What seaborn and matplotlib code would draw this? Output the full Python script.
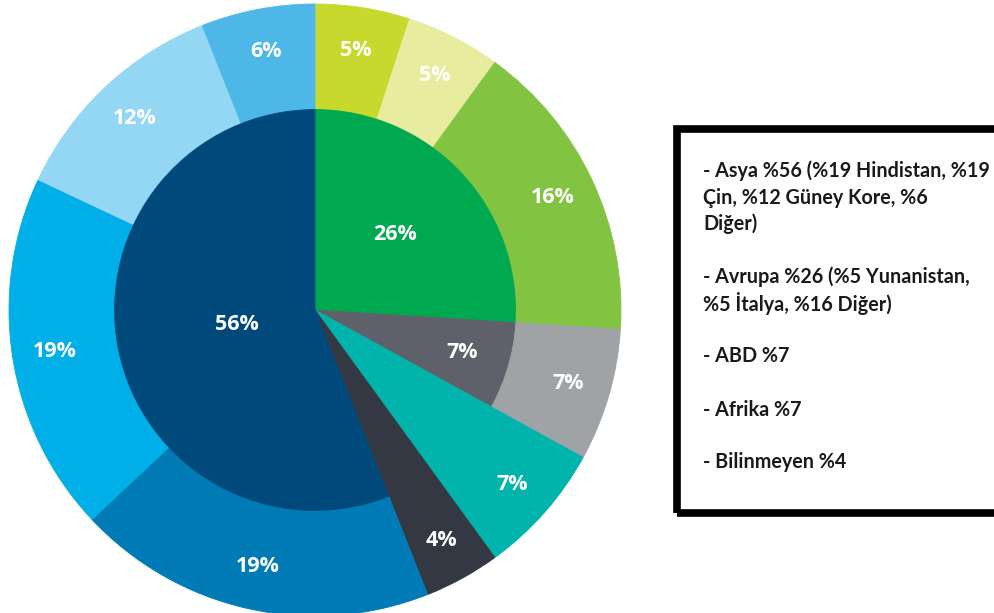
import numpy as np
import matplotlib.pyplot as plt
import seaborn as sns
from matplotlib.patches import Rectangle

# ==========================================
# DATA (clockwise from 12 o'clock)
# ==========================================
inner_names = ['Avrupa', 'ABD', 'Afrika', 'Bilinmeyen', 'Asya']
inner_values = [26, 7, 7, 4, 56]
inner_colors = ['#00a84f', '#5e6169', '#00b4ac', '#343843', '#004a7b']

outer_names = ['Yunanistan', 'İtalya', 'Avrupa Diğer', 'ABD', 'Afrika', 'Bilinmeyen',
               'Hindistan', 'Çin', 'Güney Kore', 'Asya Diğer']
outer_values = [5, 5, 16, 7, 7, 4, 19, 19, 12, 6]
outer_colors = ['#c8d92d', '#e8ec9e', '#82c341', '#a0a3a6', '#00b4ac', '#343843',
                '#007bb5', '#00aee8', '#94d7f5', '#4db7e7']

legend_lines = [
    '- Asya %56 (%19 Hindistan, %19',
    'Çin, %12 Güney Kore, %6',
    'Diğer)',
    '',
    '- Avrupa %26 (%5 Yunanistan,',
    '%5 İtalya, %16 Diğer)',
    '',
    '- ABD %7',
    '',
    '- Afrika %7',
    '',
    '- Bilinmeyen %4',
]

# which inner slices carry a label, and how far out (fraction of outer radius)
inner_label_r = [0.36, 0.50, None, None, 0.26]
outer_label_r = 0.86
inner_radius = 0.655

sns.set_theme(style='white')
plt.rcParams['font.family'] = ['Open Sans', 'DejaVu Sans']

fig = plt.figure(figsize=(9.95, 6.13), dpi=100)
cx, cy, R = 315, 310, 306
ax = fig.add_axes([(cx - R) / 995, (613 - cy - R) / 613, 2 * R / 995, 2 * R / 613])
ax.set_xlim(-1, 1)
ax.set_ylim(-1, 1)
ax.set_aspect('equal')
ax.axis('off')

wedges_out, _ = ax.pie(outer_values, radius=1.0, colors=outer_colors, startangle=90,
                       counterclock=False, wedgeprops=dict(width=1.0 - inner_radius, linewidth=0.6))
wedges_in, _ = ax.pie(inner_values, radius=inner_radius, colors=inner_colors, startangle=90,
                      counterclock=False, wedgeprops=dict(linewidth=0.6))
# edge in the slice's own colour hides the antialiasing seams
for w in list(wedges_out) + list(wedges_in):
    w.set_edgecolor(w.get_facecolor())
ax.set_xlim(-1, 1)
ax.set_ylim(-1, 1)

def mid_angle(w):
    return np.deg2rad((w.theta1 + w.theta2) / 2)

for w, v in zip(wedges_out, outer_values):
    a = mid_angle(w)
    ax.text(outer_label_r * np.cos(a), outer_label_r * np.sin(a), f'{v}%',
            ha='center', va='center', color='white', fontsize=15.5, fontweight='bold')

for w, v, r in zip(wedges_in, inner_values, inner_label_r):
    if r is None:
        continue
    a = mid_angle(w)
    ax.text(r * np.cos(a), r * np.sin(a), f'{v}%',
            ha='center', va='center', color='white', fontsize=15.5, fontweight='bold')

# legend box (runs off the right edge like the reference)
box = Rectangle((677 / 995, 1 - 513 / 613), 340 / 995, 384 / 613, transform=fig.transFigure,
                fill=False, edgecolor='black', linewidth=5.5, clip_on=False)
fig.patches.append(box)

y0, pitch = 171, 26.5
for i, line in enumerate(legend_lines):
    if not line:
        continue
    fig.text(703 / 995, 1 - (y0 + i * pitch) / 613, line, ha='left', va='center',
             fontsize=14.2, fontweight='bold', color='#1a1a1a', family=['Lato', 'DejaVu Sans'])

plt.savefig('out.png', dpi=100)
